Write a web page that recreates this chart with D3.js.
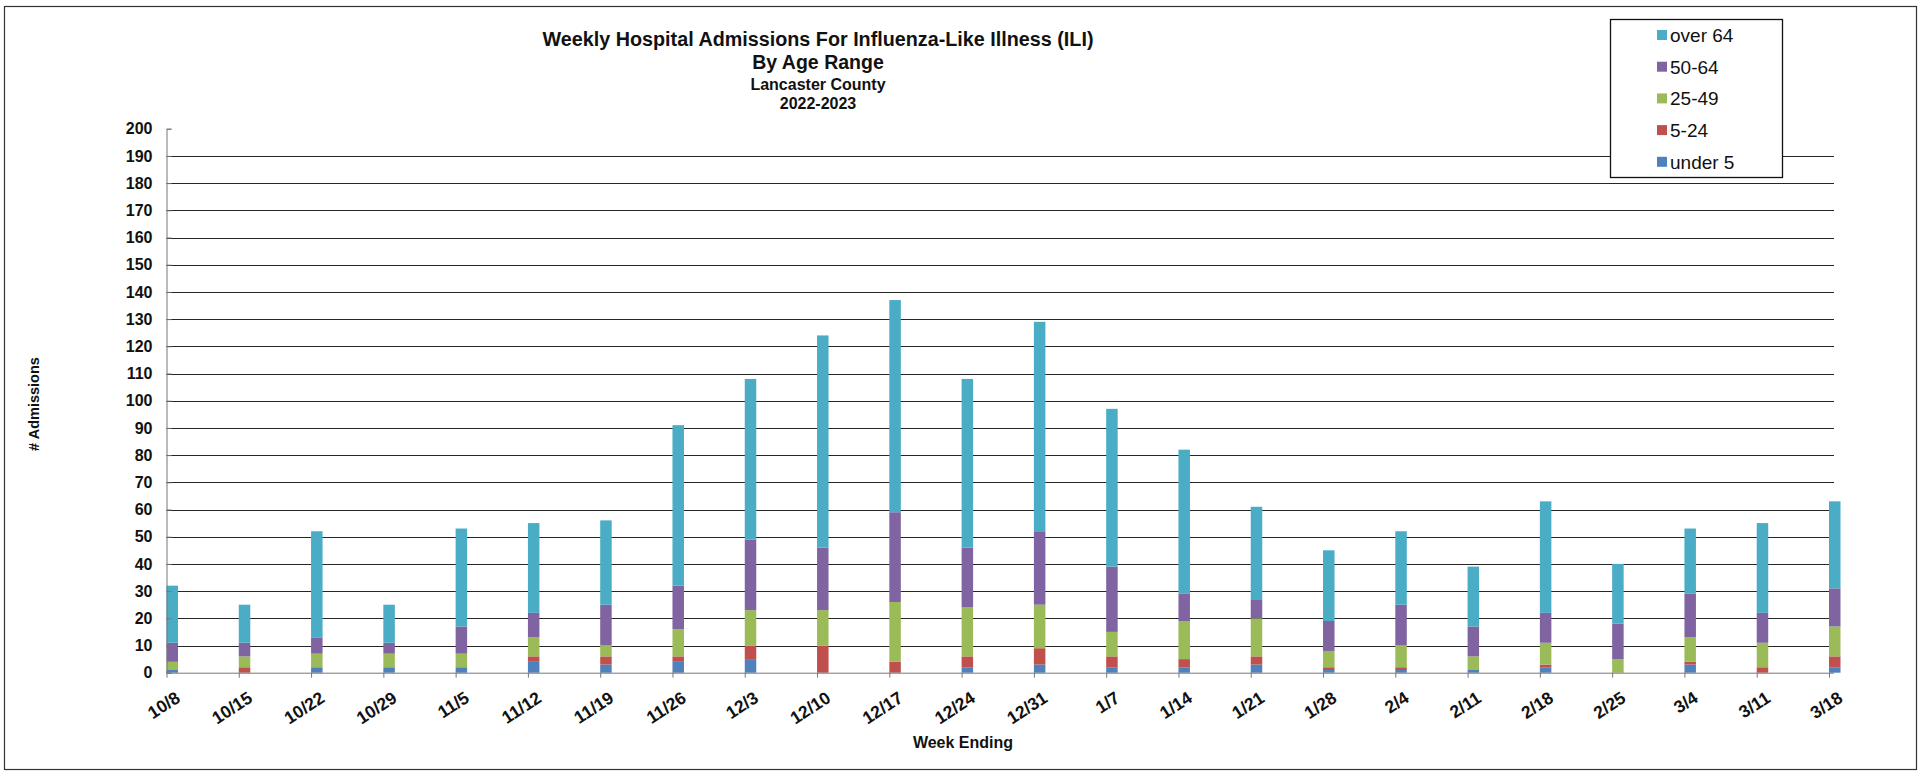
<!DOCTYPE html>
<html>
<head>
<meta charset="utf-8">
<script src="https://cdn.jsdelivr.net/npm/d3@7"></script>
<style>
  html, body { margin: 0; padding: 0; background: #fff; }
  svg { display: block; font-family: Arial, "Liberation Sans", sans-serif; }
</style>
</head>
<body>
<svg id="chart" width="1921" height="773"></svg>
<script>
// ---- data ----
const weeks = ["10/8","10/15","10/22","10/29","11/5","11/12","11/19","11/26","12/3","12/10","12/17","12/24","12/31","1/7","1/14","1/21","1/28","2/4","2/11","2/18","2/25","3/4","3/11","3/18"];
const under5   = [1,0,2,2,2,4,3,4,5,0,0,2,3,2,2,3,1,1,1,2,0,3,0,2];
const age5to24 = [0,2,0,0,0,2,3,2,5,10,4,4,6,4,3,3,1,1,0,1,0,1,2,4];
const age25to49= [3,4,5,5,5,7,4,10,13,13,22,18,16,9,14,14,6,8,5,8,5,9,9,11];
const age50to64= [7,5,6,4,10,9,15,16,26,23,33,22,27,24,10,7,11,15,11,11,13,16,11,14];
const over64   = [21,14,39,14,36,33,31,59,59,78,78,62,77,58,53,34,26,27,22,41,22,24,33,32];
const seriesNames = ["under 5","5-24","25-49","50-64","over 64"];
const seriesColors = ["#4F81BD","#C0504D","#9BBB59","#8064A2","#4BACC6"];
const yTicks = d3.range(0, 201, 10);
const titleLines = ["Weekly Hospital Admissions For Influenza-Like Illness (ILI)","By Age Range","Lancaster County","2022-2023"];

// ---- build table ----
const seriesValues = [under5, age5to24, age25to49, age50to64, over64];
const table = weeks.map((w, i) => {
  const row = { week: w };
  seriesNames.forEach((s, j) => row[s] = seriesValues[j][i]);
  return row;
});
const stacked = d3.stack().keys(seriesNames)(table);

const svg = d3.select("#chart");

// outer border
svg.append("rect").attr("x", 4.5).attr("y", 6.5).attr("width", 1912).attr("height", 763)
  .attr("fill", "#fff").attr("stroke", "#333").attr("stroke-width", 1.2);

const plotLeft = 166.5, lastTick = 1829, plotRight = 1834;
const yBase = 672.7, yTop = 128.7;
const x = d3.scalePoint().domain(weeks).range([plotLeft, lastTick]);
const y = d3.scaleLinear().domain([0, 200]).range([yBase, yTop]);
const barW = 11.5;

// gridlines
svg.append("g").selectAll("line")
  .data(yTicks.filter(t => t > 0 && t < 200))
  .join("line")
  .attr("x1", plotLeft).attr("x2", plotRight)
  .attr("y1", d => Math.round(y(d)) + 0.5).attr("y2", d => Math.round(y(d)) + 0.5)
  .attr("stroke", "#262626").attr("stroke-width", 1);

// bars
svg.append("g").selectAll("g")
  .data(stacked)
  .join("g")
  .attr("fill", (d, i) => seriesColors[i])
  .selectAll("rect")
  .data(d => d)
  .join("rect")
  .attr("x", d => x(d.data.week))
  .attr("width", barW)
  .attr("y", d => y(d[1]))
  .attr("height", d => Math.max(0, y(d[0]) - y(d[1])));

// y axis
const yAxis = svg.append("g").attr("transform", `translate(${plotLeft},0)`)
  .call(d3.axisLeft(y).tickValues(yTicks).tickSize(-5).tickPadding(14).tickFormat(d3.format("d")));
yAxis.select(".domain").attr("stroke", "#777");
yAxis.selectAll(".tick line").attr("stroke", "#777");
yAxis.selectAll("text").attr("font-size", "16px").attr("font-weight", "bold").attr("fill", "#111");

// x axis
const xAxis = svg.append("g").attr("transform", `translate(0,${yBase})`)
  .call(d3.axisBottom(x).tickSize(5).tickSizeOuter(0));
xAxis.select(".domain").attr("stroke", "#777").attr("d", `M${plotLeft},0.5H${plotRight}`);
xAxis.selectAll(".tick line").attr("stroke", "#777");
xAxis.selectAll("text")
  .attr("font-size", "17.5px").attr("font-weight", "bold").attr("fill", "#111")
  .attr("text-anchor", "end")
  .attr("transform", "translate(11,23) rotate(-33)")
  .attr("x", 0).attr("y", 0).attr("dy", "0.35em");

// titles
const tSizes = [19.5, 19.5, 16, 16];
const tBase = [46, 69, 90, 109];
const tWidths = [551, 131, null, null];
titleLines.forEach((t, i) => {
  const el = svg.append("text").attr("x", 818).attr("y", tBase[i])
    .attr("text-anchor", "middle").attr("font-weight", "bold")
    .attr("font-size", tSizes[i] + "px").attr("fill", "#111").text(t);
  if (i === 0) el.attr("textLength", tWidths[i]).attr("lengthAdjust", "spacingAndGlyphs");
});

// axis titles
svg.append("text").attr("transform", "translate(39,404) rotate(-90)")
  .attr("text-anchor", "middle").attr("font-weight", "bold").attr("font-size", "14.5px")
  .attr("fill", "#111").text("# Admissions");
svg.append("text").attr("x", 963).attr("y", 748)
  .attr("text-anchor", "middle").attr("font-weight", "bold").attr("font-size", "16px")
  .attr("fill", "#111").text("Week Ending");

// legend
const lg = svg.append("g");
lg.append("rect").attr("x", 1610.5).attr("y", 19.5).attr("width", 172).attr("height", 158)
  .attr("fill", "#fff").attr("stroke", "#111").attr("stroke-width", 1.3);
const legendOrder = seriesNames.map((s, i) => i).reverse();
legendOrder.forEach((si, k) => {
  const cy = 35 + k * 31.7;
  lg.append("rect").attr("x", 1657).attr("y", cy - 5).attr("width", 10).attr("height", 10)
    .attr("fill", seriesColors[si]);
  lg.append("text").attr("x", 1670).attr("y", cy).attr("dy", "0.36em")
    .attr("font-size", "19px").attr("fill", "#111").text(seriesNames[si]);
});
</script>
</body>
</html>
